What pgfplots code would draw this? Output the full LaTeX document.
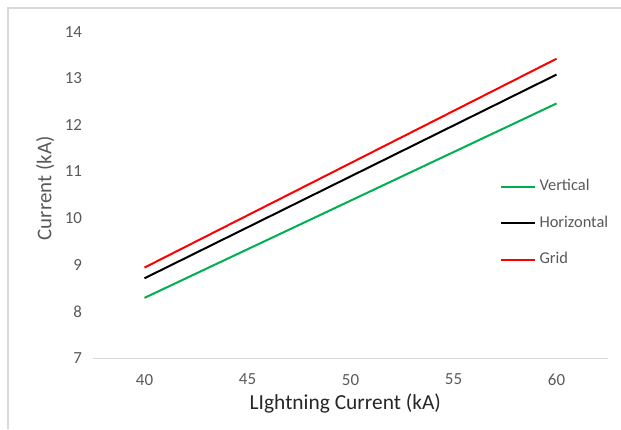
\documentclass[border=0pt]{standalone}
\usepackage{fontspec}
\setmainfont{Carlito}
\usepackage{pgfplots}
\pgfplotsset{compat=1.18}

\definecolor{vertgreen}{HTML}{00B050}
\definecolor{gridred}{HTML}{FF0000}
\definecolor{ticktext}{HTML}{595959}
\definecolor{axisgray}{HTML}{D9D9D9}
\definecolor{titletext}{HTML}{262626}

\begin{document}
\begin{tikzpicture}[x=1bp,y=1bp]
  \useasboundingbox (0,0) rectangle (621,429);
  % chart-area frame (top and left edges)
  \draw[axisgray, line width=1.5bp] (8,0) -- (8,421) -- (621,421);

  \begin{axis}[
    at={(93bp,71bp)}, anchor=south west,
    scale only axis,
    width=515bp, height=326.3bp,
    xmin=37.5, xmax=62.5,
    ymin=7, ymax=14,
    xtick={40,45,50,55,60},
    ytick={7,8,9,10,11,12,13,14},
    major tick length=0pt,
    axis lines*=left,
    x axis line style={draw=axisgray, line width=1bp, -},
    y axis line style={draw=none},
    tick label style={font=\fontsize{17}{20}\selectfont, text=ticktext},
    /pgf/number format/assume math mode=true,
    xticklabel style={yshift=-12.5bp},
    yticklabel style={xshift=-7.5bp},
    xlabel={LIghtning Current (kA)},
    ylabel={Current (kA)},
    xlabel style={at={(axis description cs:0.49,-0.138)}, anchor=center,
                  font=\fontsize{21.5}{24}\selectfont, text=titletext},
    ylabel style={at={(axis description cs:-0.093,0.52)}, anchor=center, rotate=0,
                  font=\fontsize{21}{24}\selectfont, text=ticktext},
    legend cell align=left,
    legend style={draw=none, fill=none, inner sep=0pt,
                  at={(rel axis cs:0.79,0.413)}, anchor=west,
                  font=\fontsize{16.5}{19}\selectfont, text=ticktext,
                  nodes={inner sep=0pt, text height=12bp, text depth=4bp},
                  row sep=20.5bp, /tikz/column sep=3.5bp},
    legend image code/.code={\draw[#1] (0bp,0bp) -- (34bp,0bp);},
  ]
    % Vertical grounding
    \addplot[vertgreen, line width=2bp] coordinates {(40,8.29) (60,12.46)};
    \addlegendentry{Vertical}
    % Horizontal grounding
    \addplot[black, line width=2bp] coordinates {(40,8.71) (60,13.08)};
    \addlegendentry{Horizontal}
    % Grid grounding
    \addplot[gridred, line width=2bp] coordinates {(40,8.94) (60,13.42)};
    \addlegendentry{Grid}
  \end{axis}
\end{tikzpicture}
\end{document}
